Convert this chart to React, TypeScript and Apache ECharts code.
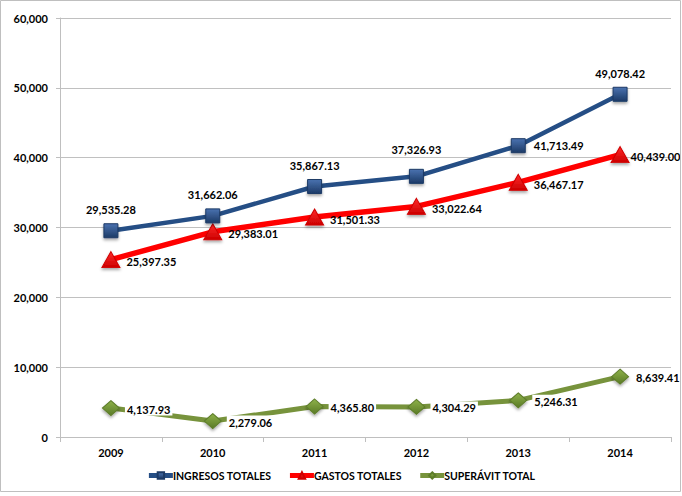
import React, { useEffect, useRef } from "react";
import * as echarts from "echarts";

const years = ["2009", "2010", "2011", "2012", "2013", "2014"];
const ingresos = [29535.28, 31662.06, 35867.13, 37326.93, 41713.49, 49078.42];
const gastos = [25397.35, 29383.01, 31501.33, 33022.64, 36467.17, 40439.0];
const superavit = [4137.93, 2279.06, 4365.8, 4304.29, 5246.31, 8639.41];
const ingresosLabelPos = ["top", "top", "top", "top", "right", "top"];

const fmt2 = new Intl.NumberFormat("en-US", { minimumFractionDigits: 2, maximumFractionDigits: 2 });
const fmt0 = new Intl.NumberFormat("en-US", { maximumFractionDigits: 0 });

const FONT = "Lato";

export default function App() {
  const ref = useRef<HTMLDivElement>(null);
  useEffect(() => {
    const chart = echarts.init(ref.current!, null, { renderer: "svg" });
    const labelStyle = {
      show: true,
      fontFamily: FONT,
      fontWeight: "bold",
      fontSize: 11,
      color: "#000",
      formatter: (p: any) => fmt2.format(p.value),
    };
    const grad = (a: string, b: string) =>
      new echarts.graphic.LinearGradient(0, 0, 0, 1, [
        { offset: 0, color: a },
        { offset: 1, color: b },
      ]);
    chart.setOption({
      animation: false,
      backgroundColor: "#fff",
      grid: { left: 60, right: 11, top: 18, bottom: 59 },
      xAxis: {
        type: "category",
        data: years,
        boundaryGap: true,
        axisLine: { lineStyle: { color: "#bfbfbf", width: 1 } },
        axisTick: { show: true, length: 5, lineStyle: { color: "#bfbfbf" } },
        axisLabel: { fontFamily: FONT, fontWeight: "bold", fontSize: 11, color: "#000", margin: 10 },
      },
      yAxis: {
        type: "value",
        min: 0,
        max: 60000,
        interval: 10000,
        axisLine: { show: true, lineStyle: { color: "#bfbfbf" } },
        axisTick: { show: true, length: 4, lineStyle: { color: "#bfbfbf" } },
        splitLine: { lineStyle: { color: "#c0c0c0", width: 1 } },
        axisLabel: {
          fontFamily: FONT,
          fontWeight: "bold",
          fontSize: 11,
          color: "#000",
          margin: 12,
          formatter: (v: number) => fmt0.format(v),
        },
      },
      legend: {
        bottom: 10,
        left: "center",
        itemWidth: 24,
        itemHeight: 8,
        itemGap: 16,
        lineStyle: { width: 5 },
        textStyle: { fontFamily: FONT, fontWeight: "bold", fontSize: 10.5, color: "#000", padding: [0, 0, 0, -5] },
        data: ["INGRESOS TOTALES", "GASTOS TOTALES", "SUPERÁVIT TOTAL"],
      },
      series: [
        {
          name: "INGRESOS TOTALES",
          type: "line",
          data: ingresos.map((v, i) => ({
            value: v,
            label: { position: ingresosLabelPos[i], distance: i === 3 ? 14 : 8 },
          })),
          symbol: "rect",
          symbolSize: 14,
          lineStyle: { color: "#254e85", width: 4.5 },
          itemStyle: {
            color: grad("#4a72b0", "#1c3a66"),
            borderColor: "#1c3a66",
            borderWidth: 1,
            shadowColor: "rgba(0,0,0,0.35)",
            shadowBlur: 3,
            shadowOffsetY: 2,
          },
          label: { ...labelStyle, distance: 8 },
          z: 3,
        },
        {
          name: "GASTOS TOTALES",
          type: "line",
          data: gastos.map((v, i) => ({
            value: v,
            label: { distance: i === 5 ? 1 : 6 },
          })),
          symbol: "triangle",
          symbolSize: [18, 16],
          lineStyle: { color: "#ff0000", width: 5.5 },
          itemStyle: {
            color: grad("#ff2a2a", "#cc0000"),
            borderColor: "#d00000",
            borderWidth: 1,
            shadowColor: "rgba(0,0,0,0.35)",
            shadowBlur: 3,
            shadowOffsetY: 2,
          },
          label: { ...labelStyle, position: "right", distance: 6, offset: [0, 2] },
          z: 2,
        },
        {
          name: "SUPERÁVIT TOTAL",
          type: "line",
          data: superavit,
          symbol: "diamond",
          symbolSize: [17, 15],
          lineStyle: { color: "#77933c", width: 5 },
          itemStyle: {
            color: grad("#8eb24a", "#5a7a26"),
            borderColor: "#5e7d2a",
            borderWidth: 1,
            shadowColor: "rgba(0,0,0,0.35)",
            shadowBlur: 3,
            shadowOffsetY: 2,
          },
          label: {
            ...labelStyle,
            position: "right",
            distance: 5,
            offset: [0, 1],
            backgroundColor: "#fff",
            padding: [1, 2, 1, 2],
          },
          z: 1,
        },
      ],
      graphic: [
        {
          type: "rect",
          shape: { x: 0.5, y: 0.5, width: 680, height: 491 },
          style: { fill: "none", stroke: "#bfbfbf", lineWidth: 1 },
          silent: true,
          z: 100,
        },
      ],
    });
    return () => chart.dispose();
  }, []);
  return (
    <div
      ref={ref}
      style={{ position: "fixed", left: 0, top: 0, width: 682, height: 496 }}
    />
  );
}
